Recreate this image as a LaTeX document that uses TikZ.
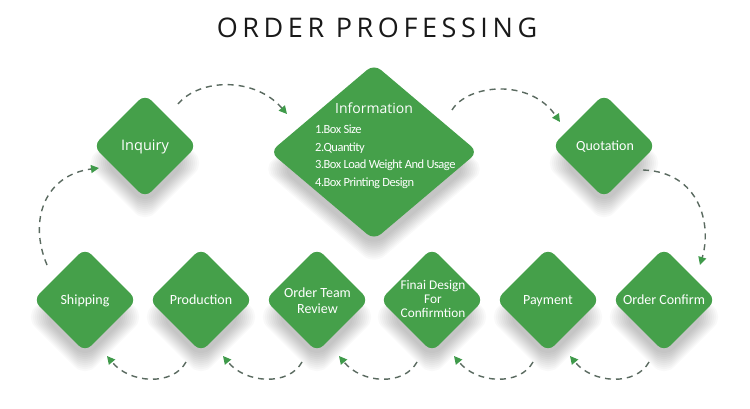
\documentclass[tikz,border=0pt]{standalone}
\usepackage{fontspec}
\setmainfont{Carlito}
\newfontfamily\osans{Open Sans}
\newfontfamily\osanstitle[LetterSpace=17]{Open Sans}
\newfontfamily\tightcal[LetterSpace=-4]{Carlito}
\usetikzlibrary{shapes.geometric,arrows.meta}
\definecolor{dgreen}{HTML}{45A04A}
\definecolor{dashc}{HTML}{5A6A60}
\definecolor{tipc}{HTML}{3F9A4A}
\newcommand\dshadow[4]{%
  \foreach \k in {0,...,9}{%
    \fill[black,opacity=0.022,rounded corners=14pt]
      ({#1-(#3-10+2*\k)},{#2+17}) -- ({#1},{#2+17-(#4-10+2*\k)}) --
      ({#1+(#3-10+2*\k)},{#2+17}) -- ({#1},{#2+17+(#4-10+2*\k)}) -- cycle;
  }}
\begin{document}
\begin{tikzpicture}[x=1pt,y=-1pt,
  dia/.style={diamond, fill=dgreen, rounded corners=9pt, minimum width=104pt,
    minimum height=104pt, inner sep=0pt},
  lbl/.style={text=white, font=\fontsize{14}{15.5}\selectfont, align=center, inner sep=0pt},
  lst/.style={text=white, font=\tightcal\fontsize{12.5}{15}\selectfont, anchor=base west, inner sep=0pt},
  flow/.style={draw=dashc, line width=1.4pt, dash pattern=on 6pt off 5pt,
    -{Triangle[width=8pt,length=8pt,color=tipc]}}]
\fill[white] (0,0) rectangle (750,409);
\useasboundingbox (0,0) rectangle (750,409);

% title
\node[font=\osanstitle\fontsize{27}{30}\selectfont, text=black!90, inner sep=0pt] (title) at (377,27.5) {ORDER PROFESSING};

% shadows
\dshadow{145}{146}{52}{52}
\dshadow{374}{152}{104}{88}
\dshadow{604}{146}{52}{52}
\foreach \cx in {85,201,317,432,548,664}{\dshadow{\cx}{300}{52}{52}}

% diamonds
\node[dia] (inq) at (145,146) {};
\node[dia, minimum width=208pt, minimum height=176pt] (info) at (374,152) {};
\node[dia] (quo) at (604,146) {};
\node[dia] (ship) at (85,300) {};
\node[dia] (prod) at (201,300) {};
\node[dia] (otr) at (317,300) {};
\node[dia] (fin) at (432,300) {};
\node[dia] (pay) at (548,300) {};
\node[dia] (oc) at (664,300) {};

% labels
\node[lbl, font=\osans\fontsize{14.5}{16}\selectfont, anchor=base] (inq-t) at (145,150) {Inquiry};
\node[lbl, font=\osans\fontsize{14}{16}\selectfont, anchor=base] (info-t) at (374,113.3) {Information};
\node[lst] (info1) at (315,134) {1.Box Size};
\node[lst] (info2) at (315,151.3) {2.Quantity};
\node[lst] (info3) at (315,168.7) {3.Box Load Weight And Usage};
\node[lst] (info4) at (315,186) {4.Box Printing Design};
\node[lbl, anchor=base] (quo-t) at (605,150) {Quotation};
\node[lbl, anchor=base] (ship-t) at (85,304.5) {Shipping};
\node[lbl, anchor=base] (prod-t) at (201,304.5) {Production};
\node[lbl] (otr-t) at (317.5,300.5) {Order Team\\Review};
\node[lbl, font=\fontsize{13.3}{14}\selectfont] (fin-t) at (433,298.7) {Finai Design\\For\\Confirmtion};
\node[lbl, anchor=base] (pay-t) at (548,304.5) {Payment};
\node[lbl, anchor=base] (oc-t) at (664,304.5) {Order Confirm};

% connectors
\draw[flow] ([shift={(33,-42)}]inq.center) .. controls ([shift={(55,-68)}]inq.center) and ([shift={(-119,-75)}]info.center) .. ([shift={(-87,-38)}]info.center);
\draw[flow] ([shift={(78,-42)}]info.center) .. controls ([shift={(94,-68)}]info.center) and ([shift={(-74,-68)}]quo.center) .. ([shift={(-44,-24)}]quo.center);
\draw[flow] ([shift={(39,24)}]quo.center) .. controls ([shift={(96,26)}]quo.center) and ([shift={(48,-75)}]oc.center) .. ([shift={(36,-35)}]oc.center);
\draw[flow] ([shift={(-38,-35)}]ship.center) .. controls ([shift={(-57,-80)}]ship.center) and ([shift={(-100,29)}]inq.center) .. ([shift={(-46,22)}]inq.center);
\foreach \r/\l in {prod/ship, otr/prod, fin/otr, pay/fin, oc/pay}{
  \draw[flow] ([shift={(-15,62)}]\r.center) .. controls ([shift={(-28,86)}]\r.center) and ([shift={(45,84)}]\l.center) .. ([shift={(22,56)}]\l.center);
}
\end{tikzpicture}
\end{document}
